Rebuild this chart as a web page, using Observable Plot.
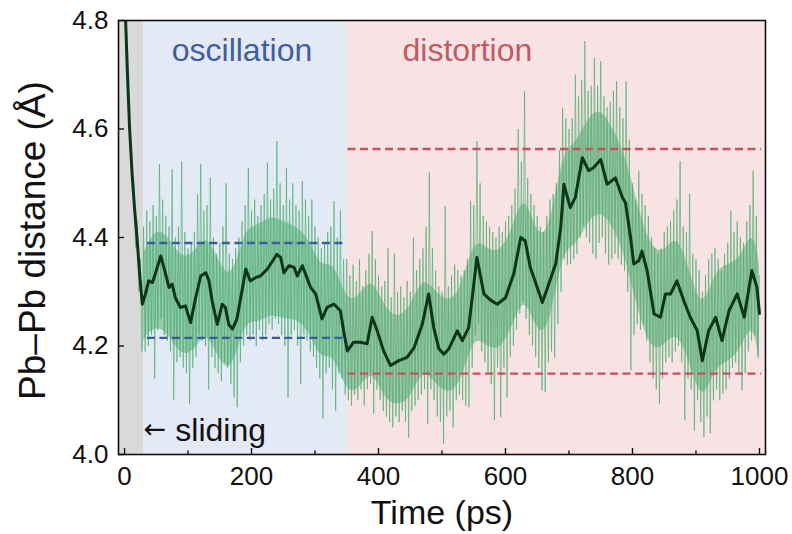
<!DOCTYPE html>
<html><head><meta charset="utf-8">
<script src="https://cdn.jsdelivr.net/npm/d3@7"></script>
<script src="https://cdn.jsdelivr.net/npm/@observablehq/plot@0.6"></script>
<style>html,body{margin:0;padding:0;background:#fff}</style>
</head><body><div id="chart"></div>
<script>
// ---- data ----
const rawStep = 2.5; // ps between raw samples, first sample at t = 0
const rawY = [
  4.88, 4.80, 4.74, 4.60, 4.58, 4.48, 4.50, 4.38, 4.43, 4.30,
  4.36, 4.19, 4.42, 4.19, 4.45, 4.20, 4.43, 4.22, 4.46, 4.14,
  4.44, 4.23, 4.535, 4.25, 4.47, 4.22, 4.44, 4.21, 4.42, 4.19,
  4.526, 4.10, 4.40, 4.17, 4.42, 4.18, 4.54, 4.16, 4.41, 4.15,
  4.38, 4.094, 4.39, 4.16, 4.41, 4.18, 4.48, 4.22, 4.536, 4.21,
  4.45, 4.20, 4.46, 4.12, 4.51, 4.18, 4.40, 4.16, 4.37, 4.15,
  4.39, 4.136, 4.42, 4.17, 4.50, 4.16, 4.37, 4.13, 4.36, 4.105,
  4.38, 4.087, 4.40, 4.17, 4.43, 4.20, 4.46, 4.22, 4.528, 4.21,
  4.45, 4.22, 4.47, 4.20, 4.44, 4.23, 4.46, 4.21, 4.48, 4.22,
  4.538, 4.24, 4.47, 4.23, 4.49, 4.25, 4.578, 4.24, 4.50, 4.22,
  4.46, 4.20, 4.528, 4.105, 4.47, 4.22, 4.50, 4.23, 4.46, 4.20,
  4.45, 4.13, 4.504, 4.22, 4.47, 4.21, 4.44, 4.19, 4.47, 4.18,
  4.42, 4.16, 4.40, 4.14, 4.38, 4.066, 4.39, 4.15, 4.41, 4.16,
  4.42, 4.12, 4.467, 4.08, 4.40, 4.15, 4.45, 4.14, 4.36, 4.11,
  4.36, 4.10, 4.33, 4.09, 4.35, 4.11, 4.32, 4.10, 4.36, 4.12,
  4.31, 4.09, 4.34, 4.12, 4.37, 4.13, 4.412, 4.075, 4.36, 4.12,
  4.33, 4.10, 4.31, 4.08, 4.32, 4.07, 4.38, 4.06, 4.29, 4.05,
  4.37, 4.07, 4.30, 4.06, 4.31, 4.08, 4.29, 4.06, 4.32, 4.031,
  4.30, 4.08, 4.40, 4.09, 4.34, 4.10, 4.36, 4.11, 4.38, 4.12,
  4.42, 4.057, 4.52, 4.12, 4.38, 4.10, 4.34, 4.07, 4.31, 4.06,
  4.30, 4.02, 4.458, 4.07, 4.31, 4.08, 4.33, 4.05, 4.35, 4.10,
  4.34, 4.11, 4.33, 4.10, 4.34, 4.09, 4.36, 4.087, 4.467, 4.16,
  4.46, 4.22, 4.578, 4.24, 4.50, 4.19, 4.44, 4.17, 4.43, 4.15,
  4.42, 4.13, 4.41, 4.063, 4.40, 4.16, 4.42, 4.069, 4.41, 4.16,
  4.43, 4.105, 4.44, 4.18, 4.46, 4.20, 4.49, 4.23, 4.60, 4.26,
  4.54, 4.28, 4.67, 4.25, 4.51, 4.22, 4.48, 4.20, 4.46, 4.18,
  4.44, 4.16, 4.42, 4.118, 4.41, 4.115, 4.44, 4.17, 4.47, 4.19,
  4.48, 4.179, 4.50, 4.24, 4.56, 4.30, 4.639, 4.36, 4.62, 4.35,
  4.60, 4.351, 4.62, 4.36, 4.70, 4.37, 4.66, 4.40, 4.69, 4.42,
  4.762, 4.40, 4.67, 4.39, 4.68, 4.37, 4.731, 4.36, 4.68, 4.39,
  4.725, 4.40, 4.66, 4.37, 4.64, 4.35, 4.65, 4.36, 4.67, 4.37,
  4.688, 4.36, 4.64, 4.35, 4.62, 4.339, 4.688, 4.30, 4.58, 4.155,
  4.50, 4.22, 4.47, 4.24, 4.523, 4.23, 4.48, 4.24, 4.46, 4.21,
  4.44, 4.17, 4.40, 4.14, 4.38, 4.12, 4.37, 4.094, 4.38, 4.14,
  4.41, 4.17, 4.42, 4.18, 4.43, 4.17, 4.45, 4.19, 4.47, 4.20,
  4.541, 4.17, 4.42, 4.063, 4.41, 4.14, 4.48, 4.12, 4.37, 4.044,
  4.36, 4.10, 4.34, 4.06, 4.30, 4.032, 4.33, 4.07, 4.36, 4.039,
  4.37, 4.10, 4.38, 4.12, 4.36, 4.10, 4.34, 4.112, 4.37, 4.12,
  4.39, 4.14, 4.449, 4.16, 4.41, 4.17, 4.43, 4.15, 4.40, 4.118,
  4.39, 4.15, 4.43, 4.19, 4.46, 4.21, 4.523, 4.22, 4.44, 4.18,
  4.33
];

// dense core of the raw trace (where most samples overlap)
const coreT  = [30, 50, 70, 90, 110, 130, 150, 170, 190, 210, 230, 250, 270, 290, 310, 330, 350, 370, 390, 410,
  430, 450, 470, 490, 510, 530, 550, 570, 590, 610, 630, 650, 670, 690, 710, 730, 750, 770, 790, 810,
  830, 850, 870, 890, 910, 930, 950, 970, 990, 1000];
const coreHi = [4.37, 4.42, 4.40, 4.36, 4.37, 4.41, 4.35, 4.32, 4.42, 4.42, 4.44, 4.43, 4.42, 4.40, 4.34, 4.36, 4.28, 4.29, 4.33, 4.27,
  4.25, 4.27, 4.33, 4.30, 4.28, 4.30, 4.40, 4.38, 4.37, 4.41, 4.49, 4.40, 4.41, 4.56, 4.57, 4.62, 4.64, 4.60, 4.55, 4.45,
  4.38, 4.37, 4.41, 4.34, 4.26, 4.34, 4.35, 4.36, 4.42, 4.35];
const coreLo = [4.21, 4.24, 4.22, 4.18, 4.19, 4.23, 4.17, 4.15, 4.25, 4.24, 4.26, 4.25, 4.25, 4.23, 4.17, 4.19, 4.11, 4.12, 4.16, 4.10,
  4.09, 4.10, 4.16, 4.13, 4.11, 4.13, 4.22, 4.20, 4.19, 4.23, 4.30, 4.22, 4.23, 4.38, 4.38, 4.43, 4.45, 4.42, 4.36, 4.26,
  4.19, 4.20, 4.23, 4.17, 4.09, 4.16, 4.17, 4.19, 4.25, 4.17];

const smoothT = [0, 4, 8, 12, 16, 20, 24, 28, 33, 38, 44, 49, 57, 62, 70, 75, 80, 88, 96, 104,
  112, 120, 128, 133, 138, 146, 154, 159, 164, 170, 177, 185, 191, 198, 206, 214, 225, 235, 240, 246,
  251, 259, 267, 272, 280, 285, 293, 301, 311, 319, 330, 340, 345, 351, 361, 372, 382, 390, 398, 408,
  419, 432, 445, 456, 469, 479, 487, 495, 503, 511, 524, 532, 542, 555, 566, 576, 587, 600, 613, 624,
  631, 639, 650, 658, 668, 679, 687, 692, 702, 710, 721, 731, 739, 750, 760, 773, 784, 789, 797, 802,
  810, 815, 823, 834, 844, 852, 860, 870, 881, 891, 902, 910, 920, 931, 941, 952, 965, 976, 988, 996, 1000];
const smoothY = [4.86, 4.72, 4.60, 4.516, 4.45, 4.394, 4.33, 4.277, 4.296, 4.32, 4.317, 4.335, 4.366, 4.345, 4.308, 4.314, 4.289, 4.271, 4.274, 4.243,
  4.289, 4.329, 4.335, 4.32, 4.283, 4.24, 4.277, 4.271, 4.24, 4.231, 4.25, 4.302, 4.342, 4.32, 4.326, 4.329, 4.342, 4.36, 4.369, 4.363,
  4.335, 4.348, 4.345, 4.329, 4.348, 4.333, 4.308, 4.296, 4.25, 4.271, 4.277, 4.265, 4.228, 4.191, 4.207, 4.207, 4.204, 4.253, 4.228, 4.191,
  4.164, 4.173, 4.179, 4.197, 4.24, 4.296, 4.234, 4.195, 4.185, 4.195, 4.228, 4.21, 4.234, 4.363, 4.296, 4.285, 4.277, 4.289, 4.333, 4.40,
  4.394, 4.345, 4.308, 4.28, 4.314, 4.351, 4.418, 4.498, 4.455, 4.474, 4.547, 4.523, 4.529, 4.544, 4.498, 4.51, 4.474, 4.464, 4.40, 4.351,
  4.357, 4.375, 4.339, 4.259, 4.253, 4.296, 4.296, 4.32, 4.283, 4.253, 4.228, 4.173, 4.228, 4.253, 4.21, 4.265, 4.296, 4.253, 4.339, 4.308, 4.26];

const regionName  = ["sliding", "oscillation", "distortion"];
const regionStart = [-9.5, 30, 350];
const regionEnd   = [30, 350, 1009.5];

const dashGroup = ["oscillation", "oscillation", "distortion", "distortion"];
const dashLevel = [4.39, 4.215, 4.563, 4.149];
const dashStart = [36, 36, 352, 352];
const dashEnd   = [345, 345, 1003, 1003];

const xTicks = [0, 200, 400, 600, 800, 1000];
const xMinorTicks = [100, 300, 500, 700, 900];
const yTicks = [4.0, 4.2, 4.4, 4.6, 4.8];

const labelText = ["oscillation", "distortion"];
const labelX = [185, 540];
const labelY = [4.745, 4.745];
const arrowText = ["\u2190"];
const arrowX = [30];
const arrowY = [4.046];
const noteText = ["sliding"];
const noteX = [80];
const noteY = [4.044];

// ---- styles ----
const regionColor = {sliding: "#d9d9d9", oscillation: "#e3eaf5", distortion: "#f7e3e3"};
const groupColor = {oscillation: "#3b5d9c", distortion: "#c4535d"};
const labelColor = {oscillation: "#3f5f9f", distortion: "#c25a64"};

// ---- tables ----
const raw = rawY.map((y, i) => ({t: i * rawStep, y}));
const core = coreT.map((t, i) => ({t, hi: coreHi[i], lo: coreLo[i]}));
const smooth = smoothT.map((t, i) => ({t, y: smoothY[i]}));
const regions = regionName.map((name, i) => ({name, x1: regionStart[i], x2: regionEnd[i]}));
const dashes = dashLevel.map((y, i) => ({group: dashGroup[i], y, x1: dashStart[i], x2: dashEnd[i]}));
const labels = labelText.map((text, i) => ({text, x: labelX[i], y: labelY[i]}));
const arrows = arrowText.map((text, i) => ({text, x: arrowX[i], y: arrowY[i]}));
const notes = noteText.map((text, i) => ({text, x: noteX[i], y: noteY[i]}));

const chart = Plot.plot({
  width: 792,
  height: 534,
  marginLeft: 118,
  marginRight: 27,
  marginTop: 20,
  marginBottom: 80,
  style: {fontFamily: "Liberation Sans, Arial, sans-serif", background: "#fff", color: "#111"},
  x: {domain: [-9.5, 1009.5]},
  y: {domain: [4.0, 4.8]},
  marks: [
    Plot.rect(regions, {x1: "x1", x2: "x2", fill: d => regionColor[d.name]}),
    Plot.areaY(core, {x: "t", y1: "lo", y2: "hi", fill: "#4dab70", fillOpacity: 0.5, curve: "basis"}),
    Plot.line(raw, {x: "t", y: "y", stroke: "#42a868", strokeWidth: 1, strokeOpacity: 0.6, clip: true}),
    Plot.ruleY(dashes, {y: "y", x1: "x1", x2: "x2", stroke: d => groupColor[d.group], strokeWidth: 2.4, strokeDasharray: "8,4.5"}),
    Plot.line(smooth, {x: "t", y: "y", stroke: "#0c3519", strokeWidth: 3, clip: true}),
    Plot.text(labels, {x: "x", y: "y", text: "text", fill: d => labelColor[d.text], fontSize: 32}),
    Plot.text(arrows, {x: "x", y: "y", text: "text", textAnchor: "start", fill: "#111", fontSize: 27, fontFamily: "DejaVu Sans"}),
    Plot.text(notes, {x: "x", y: "y", text: "text", textAnchor: "start", fill: "#111", fontSize: 32}),
    // tick labels
    Plot.axisX({ticks: xTicks, tickSize: 0, tickPadding: 12, fontSize: 26, label: null, tickFormat: d3.format("d")}),
    Plot.axisY({ticks: yTicks, tickSize: 0, tickPadding: 10, fontSize: 26, label: null, tickFormat: d3.format(".1f")}),
    // inward ticks
    Plot.axisX({ticks: xTicks, tickSize: -6, fill: "none", strokeWidth: 1.4, label: null}),
    Plot.axisX({ticks: xMinorTicks, tickSize: -3.5, fill: "none", strokeWidth: 1.4, label: null}),
    Plot.axisY({ticks: yTicks, tickSize: -6, fill: "none", strokeWidth: 1.4, label: null}),
    // axis titles
    Plot.text(["Time (ps)"], {frameAnchor: "bottom", lineAnchor: "bottom", dy: 69, fontSize: 34, fill: "#111"}),
    Plot.text(["Pb\u2013Pb distance (\u00C5)"], {frameAnchor: "left", textAnchor: "middle", rotate: -90, lineAnchor: "bottom", dx: -74, dy: 3, fontSize: 37, fill: "#111"}),
    Plot.frame({stroke: "#111", strokeWidth: 1.6})
  ]
});
document.getElementById("chart").appendChild(chart);
</script>
</body></html>
